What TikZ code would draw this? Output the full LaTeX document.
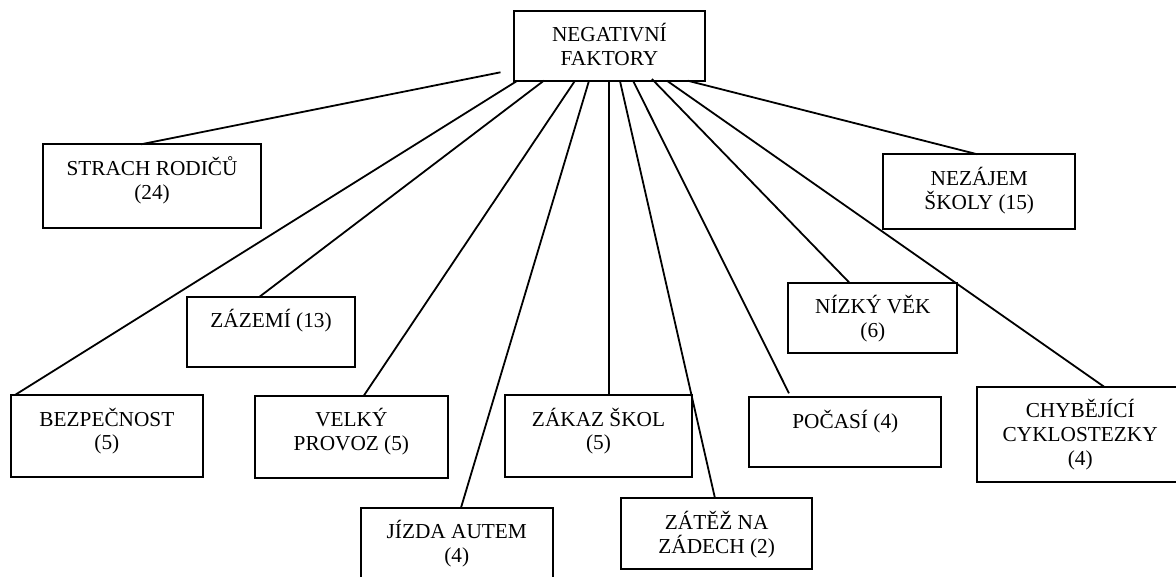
\documentclass[tikz,border=0pt]{standalone}
\usepackage{fontspec}
\setmainfont{Liberation Serif}
\usetikzlibrary{calc}

% factor box: name, left, top, right, bottom, number of lines, text (y grows downward)
\newcommand\factorbox[7]{%
  \node[fbox, minimum width={#4pt-#2pt}, minimum height={#5pt-#3pt}] (#1) at (#2,#3) {};
  \node[flabel] (#1-t) at ($(#1.north)+(0,{31+(#6-1)*23.8})$) {#7};
}

\begin{document}
\begin{tikzpicture}[x=1pt, y=-1pt,
  fbox/.style={draw, line width=2pt, inner sep=0pt, outer sep=0pt, anchor=north west, rectangle},
  flabel/.style={font=\fontsize{21.3}{23.8}\selectfont, align=center, anchor=base, inner sep=0pt},
  conn/.style={line width=1.8pt}]
\useasboundingbox (0,0) rectangle (1176,577);
\fill[white] (0,0) rectangle (1176,577);
\clip (0,0) rectangle (1176,577);

\factorbox{neg}{513.6}{11}{705.3}{80.7}{2}{NEGATIVNÍ\\FAKTORY}
\factorbox{strach}{43.3}{144.3}{260.8}{228.3}{2}{STRACH RODIČŮ\\(24)}
\factorbox{nezajem}{883.3}{154.3}{1075.2}{229.3}{2}{NEZÁJEM\\ŠKOLY (15)}
\factorbox{zazemi}{187.4}{296.7}{354.8}{366.7}{1}{ZÁZEMÍ (13)}
\factorbox{nizky}{788.4}{282.7}{957.4}{353.3}{2}{NÍZKÝ VĚK\\(6)}
\factorbox{bezp}{11.3}{395}{202.5}{477.3}{2}{BEZPEČNOST\\(5)}
\factorbox{velky}{255}{395.7}{447.8}{478.3}{2}{VELKÝ\\PROVOZ (5)}
\factorbox{zakaz}{504.8}{395}{692.3}{477}{2}{ZÁKAZ ŠKOL\\(5)}
\factorbox{pocasi}{749.3}{397.3}{941.3}{467}{1}{POČASÍ (4)}
\factorbox{chyb}{977.4}{386.7}{1183}{481.7}{3}{CHYBĚJÍCÍ\\CYKLOSTEZKY\\(4)}
\factorbox{jizda}{361}{507.7}{552.5}{600}{2}{JÍZDA AUTEM\\(4)}
\factorbox{zatez}{621}{498.3}{812.3}{569.3}{2}{ZÁTĚŽ NA\\ZÁDECH (2)}

% the line to the first factor stops short of the main box
\coordinate (strachend) at ($(neg.south west)+(-13.1,-8.4)$);

\draw[conn] (strachend) -- ($(strach.north west)+(97.7,0)$);
\draw[conn] ($(neg.south west)+(3.8,0)$) -- ($(bezp.north west)+(3.7,0)$);
\draw[conn] ($(neg.south west)+(30.2,0)$) -- ($(zazemi.north west)+(72.2,0)$);
\draw[conn] ($(neg.south west)+(61.4,0)$) -- ($(velky.north west)+(108.8,0)$);
\draw[conn] ($(neg.south west)+(75.4,0)$) -- ($(jizda.north west)+(100,0)$);
\draw[conn] ($(neg.south west)+(95.7,0)$) -- ($(zakaz.north west)+(104.5,0)$);
\draw[conn] ($(neg.south west)+(106.3,0)$) -- ($(zatez.north west)+(94,0)$);
\draw[conn] ($(neg.south west)+(119.4,0)$) -- ($(pocasi.north west)+(39.7,-4)$);
\draw[conn] ($(neg.south west)+(138.3,-1.7)$) -- ($(nizky.north west)+(61,0)$);
\draw[conn] ($(neg.south west)+(153.3,0)$) -- ($(chyb.north west)+(126.6,0)$);
\draw[conn] ($(neg.south west)+(174,0)$) -- ($(nezajem.north west)+(94.1,0)$);
\end{tikzpicture}
\end{document}
